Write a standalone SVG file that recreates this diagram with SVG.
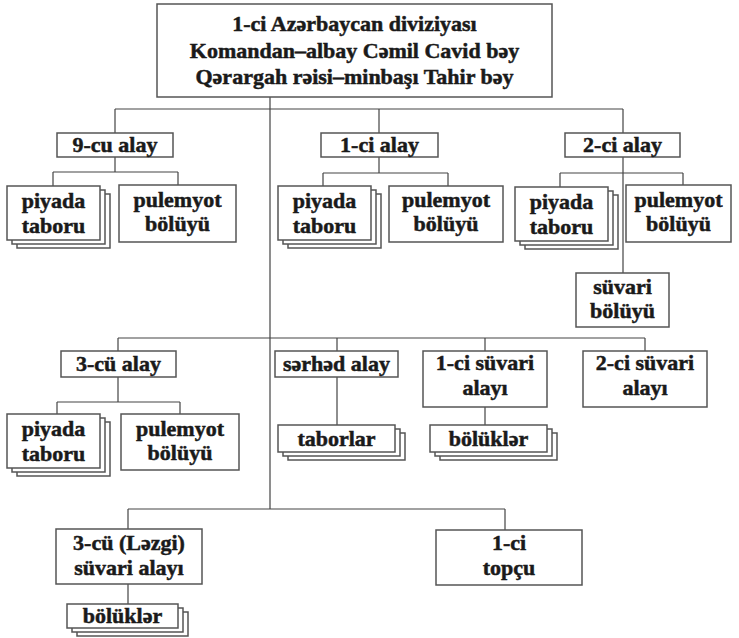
<svg xmlns="http://www.w3.org/2000/svg" width="739" height="638" viewBox="0 0 739 638">
<style>
.b{fill:#fff;stroke:#555;stroke-width:1.5}
.l{fill:none;stroke:#444;stroke-width:1.2}
text{font-family:"Liberation Serif","Times New Roman",serif;font-weight:bold;font-size:22px;fill:#1a1a1a;stroke:#1a1a1a;stroke-width:0.5;text-anchor:middle}
</style>
<defs>
<g id="stack1"><rect class="b" x="10" y="8" width="93" height="54"/><rect class="b" x="5" y="4" width="93" height="54"/><rect class="b" x="0" y="0" width="93" height="54"/></g>
<g id="stack2"><rect class="b" x="10" y="8" width="117" height="27"/><rect class="b" x="5" y="4" width="117" height="27"/><rect class="b" x="0" y="0" width="117" height="27"/></g>
<g id="stack3"><rect class="b" x="10" y="8" width="111" height="24"/><rect class="b" x="5" y="4" width="111" height="24"/><rect class="b" x="0" y="0" width="111" height="24"/></g>
</defs>
<g id="connectors">
<path class="l" d="M270 97V509M115 109H623M115 109V133M379 109V133M623 109V133M623 157V273"/>
<path class="l" d="M115 157V172M53 172H178M53 172V186M178 172V185"/>
<path class="l" d="M379 157V173M323 173H448M323 173V186M448 173V186"/>
<path class="l" d="M560 173H683M560 173V187M683 173V185"/>
<path class="l" d="M118 338H645M118 338V351M337 338V351M485 338V351M645 338V351"/>
<path class="l" d="M118 377V402M57 402H180M57 402V414M180 402V414"/>
<path class="l" d="M337 377V425M485 407V425"/>
<path class="l" d="M128 509H505M128 509V529M505 509V530M128 584V604"/>
</g>
<g id="division"><rect class="b" x="157" y="4" width="395" height="93"/>
<text x="354.5" y="31">1-ci Azərbaycan diviziyası</text>
<text x="354.5" y="58">Komandan–albay Cəmil Cavid bəy</text>
<text x="354.5" y="84">Qərargah rəisi–minbaşı Tahir bəy</text></g>
<g id="alay9"><rect class="b" x="57" y="133" width="116" height="24"/><text x="115" y="152">9-cu alay</text></g>
<g id="alay1"><rect class="b" x="321" y="133" width="117" height="24"/><text x="379.5" y="152">1-ci alay</text></g>
<g id="alay2"><rect class="b" x="565" y="133" width="115" height="24"/><text x="622.5" y="152">2-ci alay</text></g>
<g id="piyada9"><use href="#stack1" x="7" y="186"/><text x="53.5" y="208">piyada</text><text x="53.5" y="233">taboru</text></g>
<g id="pulemyot9"><rect class="b" x="119" y="185" width="117" height="57"/><text x="177.5" y="207">pulemyot</text><text x="177.5" y="231">bölüyü</text></g>
<g id="piyada1"><use href="#stack1" x="278" y="186"/><text x="324.5" y="208">piyada</text><text x="324.5" y="233">taboru</text></g>
<g id="pulemyot1"><rect class="b" x="389" y="186" width="114" height="56"/><text x="446" y="207">pulemyot</text><text x="446" y="231">bölüyü</text></g>
<g id="piyada2"><use href="#stack1" x="515" y="187"/><text x="561.5" y="209">piyada</text><text x="561.5" y="234">taboru</text></g>
<g id="pulemyot2"><rect class="b" x="626" y="185" width="105" height="57"/><text x="678.5" y="207">pulemyot</text><text x="678.5" y="231">bölüyü</text></g>
<g id="suvari-boluyu"><rect class="b" x="576" y="273" width="93" height="54"/><text x="622.5" y="294">süvari</text><text x="622.5" y="318">bölüyü</text></g>
<g id="alay3"><rect class="b" x="61" y="351" width="115" height="26"/><text x="118.5" y="371">3-cü alay</text></g>
<g id="serhed"><rect class="b" x="275" y="351" width="123" height="26"/><text x="336.5" y="371">sərhəd alay</text></g>
<g id="suvari1"><rect class="b" x="423" y="351" width="124" height="56"/><text x="485" y="370">1-ci süvari</text><text x="485" y="395">alayı</text></g>
<g id="suvari2"><rect class="b" x="583" y="351" width="124" height="56"/><text x="645" y="370">2-ci süvari</text><text x="645" y="395">alayı</text></g>
<g id="piyada3"><use href="#stack1" x="7" y="414"/><text x="53.5" y="436">piyada</text><text x="53.5" y="461">taboru</text></g>
<g id="pulemyot3"><rect class="b" x="121" y="414" width="118" height="56"/><text x="180" y="436">pulemyot</text><text x="180" y="460">bölüyü</text></g>
<g id="taborlar"><use href="#stack2" x="278" y="425"/><text x="336.5" y="446">taborlar</text></g>
<g id="boluklar1"><use href="#stack2" x="430" y="425"/><text x="488.5" y="446">bölüklər</text></g>
<g id="lezgi"><rect class="b" x="56" y="529" width="146" height="55"/><text x="129" y="550">3-cü (Ləzgi)</text><text x="129" y="575">süvari alayı</text></g>
<g id="topcu"><rect class="b" x="436" y="530" width="146" height="55"/><text x="509" y="550">1-ci</text><text x="509" y="575">topçu</text></g>
<g id="boluklar2"><use href="#stack3" x="67" y="604"/><text x="122.5" y="623">bölüklər</text></g>
</svg>
